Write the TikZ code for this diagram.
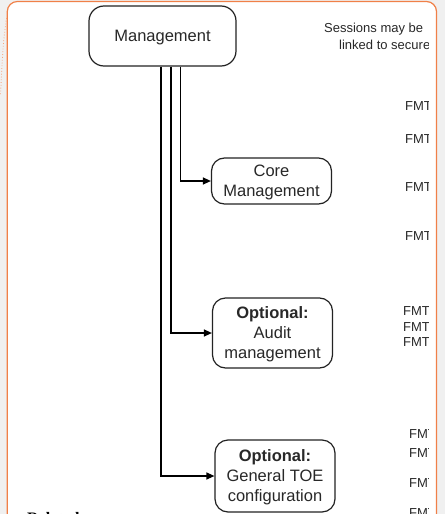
\documentclass[tikz,border=0pt]{standalone}
\usepackage{fontspec}
\setmainfont{Liberation Sans}
\newfontfamily\relfont{Liberation Serif}
\usetikzlibrary{arrows.meta}
\definecolor{bgc}{RGB}{240,240,240}
\definecolor{panelorange}{RGB}{240,128,72}
\definecolor{boxline}{RGB}{35,35,35}
\definecolor{txt}{RGB}{40,40,40}
\begin{document}
\begin{tikzpicture}[x=1pt,y=-1pt,
 box/.style={draw=boxline, line width=1.2pt, rounded corners=13pt, fill=white, align=center,
   font=\fontsize{16.5}{20}\selectfont, text=txt, inner sep=0pt, text depth=0pt},
 arr/.style={draw=black, line width=1.2pt, -{Triangle[length=8pt,width=7pt]}},
 side/.style={font=\fontsize{13}{16}\selectfont, text=txt, anchor=base west, inner sep=0pt}
]
\clip (0,0) rectangle (445,514);
\fill[bgc] (0,0) rectangle (445,514);
\draw[panelorange, line width=1.2pt, fill=white, rounded corners=10pt]
  (7.3,540) -- (7.3,1.5) -- (436.5,1.5) -- (436.5,540);
\draw[panelorange!70, dotted, line width=0.8pt] (6.5,18) .. controls (3,45) .. (0.5,95);

\node[box, minimum width=147pt, minimum height=60pt, rounded corners=15pt] (mgmt) at (162.5,36) {Management};
\node[box, minimum width=120pt, minimum height=46pt] (core) at (271.5,181) {Core\\Management};
\node[box, minimum width=120pt, minimum height=70pt] (audit) at (272.5,333) {\textbf{Optional:}\\Audit\\management};
\node[box, minimum width=120pt, minimum height=72pt] (toe) at (275,476) {\textbf{Optional:}\\General TOE\\configuration};

\coordinate (c1) at (180.3,0);
\coordinate (c2) at (171,0);
\coordinate (c3) at (161,0);
\draw[arr] (mgmt.south -| c1) |- (core.west);
\draw[arr] (mgmt.south -| c2) |- (audit.west);
\draw[arr] (mgmt.south -| c3) |- (toe.west);

\begin{scope}
\clip (0,0) rectangle (428,514);
\node[side] (s1) at (324,32) {Sessions may be};
\node[side] (s2) at (339,49) {linked to secure};
\node[side] (f1) at (405,110) {FMT};
\node[side] (f2) at (405,143) {FMT};
\node[side] (f3) at (405,191) {FMT};
\node[side] (f4) at (405,240) {FMT};
\node[side] (f5) at (403,315) {FMT};
\node[side] (f6) at (403,331) {FMT};
\node[side] (f7) at (403,346) {FMT};
\node[side] (f8) at (409,438) {FMT};
\node[side] (f9) at (409,457) {FMT};
\node[side] (f10) at (409,487) {FMT};
\node[side] (f11) at (409,517) {FMT};
\end{scope}

\node[font=\relfont\bfseries\fontsize{16}{19}\selectfont, anchor=base west, inner sep=0pt] (rel) at (27,523) {Related};
\end{tikzpicture}
\end{document}
